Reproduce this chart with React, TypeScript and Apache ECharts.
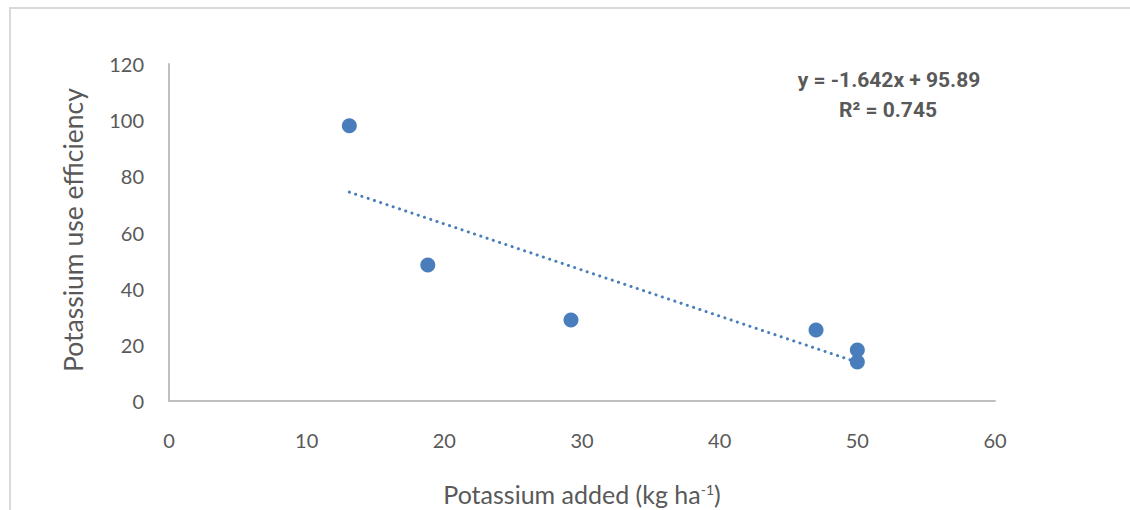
import React, { useEffect, useRef } from "react";
import * as echarts from "echarts";

const xValues = [13.1, 18.8, 29.2, 47.0, 50.0, 50.0];
const yValues = [98.0, 48.4, 28.8, 25.3, 18.2, 13.9];
const slope = -1.642;
const intercept = 95.89;
const trendX = [13.1, 50.0];
const equationText = "y = -1.642x + 95.89";
const r2Text = "R² = 0.745";
const xTicks = [0, 10, 20, 30, 40, 50, 60];
const yTicks = [0, 20, 40, 60, 80, 100, 120];

export default function App() {
  const ref = useRef<HTMLDivElement>(null);
  useEffect(() => {
    if (!ref.current) return;
    const chart = echarts.init(ref.current, undefined, { renderer: "svg" });
    const color = "#4a7dbb";
    const textColor = "#595959";
    const font = "Lato";
    const points = xValues.map((x, i) => [x, yValues[i]]);
    const trend = trendX.map((x) => [x, slope * x + intercept]);
    chart.setOption({
      animation: false,
      backgroundColor: "#ffffff",
      grid: { left: 169, top: 64, right: 135, bottom: 109 },
      xAxis: {
        type: "value",
        min: xTicks[0],
        max: xTicks[xTicks.length - 1],
        interval: 10,
        axisLine: { show: true, lineStyle: { color: "#bfbfbf", width: 2 } },
        axisTick: { show: false },
        splitLine: { show: false },
        axisLabel: { color: textColor, fontFamily: font, fontSize: 20, margin: 29 },
      },
      yAxis: {
        type: "value",
        min: yTicks[0],
        max: yTicks[yTicks.length - 1],
        interval: 20,
        axisLine: { show: true, lineStyle: { color: "#bfbfbf", width: 2 } },
        axisTick: { show: false },
        splitLine: { show: false },
        axisLabel: { color: textColor, fontFamily: font, fontSize: 20, margin: 25 },
      },
      series: [
        {
          type: "line",
          data: trend,
          symbol: "none",
          lineStyle: { color, width: 3, type: [0.1, 6.5], cap: "round" },
          silent: true,
          z: 1,
        },
        {
          type: "scatter",
          data: points,
          symbolSize: 15,
          itemStyle: { color, opacity: 1 },
          z: 2,
        },
      ],
      graphic: [
        { type: "line", shape: { x1: 9, y1: 8, x2: 1130, y2: 8 }, style: { stroke: "#d9d9d9", lineWidth: 2 } },
        { type: "line", shape: { x1: 10, y1: 8, x2: 10, y2: 510 }, style: { stroke: "#d9d9d9", lineWidth: 2 } },
        {
          type: "text",
          x: 889,
          y: 80,
          style: {
            text: equationText,
            fill: textColor,
            font: "bold 21px Roboto",
            align: "center",
            verticalAlign: "middle",
          },
        },
        {
          type: "text",
          x: 888,
          y: 110,
          style: {
            text: r2Text,
            fill: textColor,
            font: "bold 21px Roboto",
            align: "center",
            verticalAlign: "middle",
          },
        },
        {
          type: "text",
          x: 73,
          y: 230,
          rotation: Math.PI / 2,
          style: {
            text: "Potassium use efficiency",
            fill: textColor,
            font: "26.5px Lato",
            align: "center",
            verticalAlign: "middle",
          },
        },
        {
          type: "text",
          x: 582,
          y: 491,
          style: {
            text: "{a|Potassium added (kg ha}{s|-1}{a|)}",
            align: "center",
            verticalAlign: "middle",
            rich: {
              a: { fill: textColor, fontFamily: font, fontSize: 25, lineHeight: 30, verticalAlign: "bottom" },
              s: { fill: textColor, fontFamily: font, fontSize: 14, lineHeight: 14, verticalAlign: "bottom", padding: [0, 0, 10, 0] },
            },
          },
        },
      ],
    });
    return () => chart.dispose();
  }, []);
  return (
    <div
      ref={ref}
      style={{ position: "fixed", left: 0, top: 0, width: 1130, height: 510 }}
    />
  );
}
